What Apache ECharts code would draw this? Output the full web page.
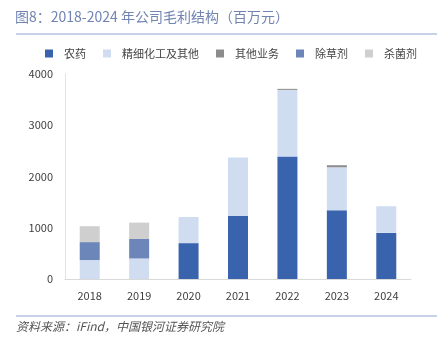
<!DOCTYPE html>
<html><head><meta charset="utf-8">
<script src="https://cdn.jsdelivr.net/npm/echarts@6/dist/echarts.min.js"></script>
<style>html,body{margin:0;padding:0;background:#fff}#c{width:443px;height:340px}</style>
</head><body><div id="c"></div>
<script>
const categories = ['2018','2019','2020','2021','2022','2023','2024'];
const pesticide = [0, 0, 700, 1230, 2390, 1340, 900];
const fineChem = [370, 400, 510, 1140, 1300, 840, 520];
const otherBiz = [0, 0, 0, 0, 20, 40, 0];
const herbicide = [350, 380, 0, 0, 0, 0, 0];
const fungicide = [310, 320, 0, 0, 0, 0, 0];
const seriesNames = ['农药','精细化工及其他','其他业务','除草剂','杀菌剂'];
const yTicks = [0, 1000, 2000, 3000, 4000];

const colors = ['#3a63ad','#d0ddf1','#8c8c8c','#6c86b9','#cfcfcf'];
const dataSets = [pesticide, fineChem, otherBiz, herbicide, fungicide];
const font = '"Noto Sans CJK SC", "Noto Sans", sans-serif';

const chart = echarts.init(document.getElementById('c'), null, {renderer:'canvas'});
chart.setOption({
  animation: false,
  color: colors,
  textStyle: {fontFamily: font},
  graphic: [
    {type:'text', left: 15, top: 10, style:{text:'图8：2018-2024 年公司毛利结构（百万元）', fill:'#7083b3', font:'14px ' + font}},
    {type:'line', shape:{x1:16, y1:34, x2:437, y2:34}, style:{stroke:'#8fa5d3', lineWidth:1}},
    {type:'line', shape:{x1:16, y1:316, x2:437, y2:316}, style:{stroke:'#8fa5d3', lineWidth:1}},
    {type:'text', left: 16, top: 320, style:{text:'资料来源：iFind，中国银河证券研究院', fill:'#555', font:'italic 12px ' + font}}
  ],
  legend: {
    data: seriesNames,
    left: 45, top: 48, padding: 0,
    itemWidth: 8, itemHeight: 8, itemGap: 17,
    icon: 'rect',
    textStyle: {fontSize: 11, color:'#444', padding:[0,0,0,6], fontFamily: font}
  },
  grid: {left: 65, right: 32, top: 74, bottom: 61},
  xAxis: {
    type: 'category', data: categories,
    axisLine: {lineStyle: {color:'#d9d9d9'}},
    axisTick: {show:false},
    axisLabel: {color:'#404040', fontSize: 11, margin: 11}
  },
  yAxis: {
    type: 'value', min: yTicks[0], max: yTicks[yTicks.length-1], interval: 1000,
    axisLine: {show:true, lineStyle: {color:'#e3e3e3'}},
    axisTick: {show:false},
    splitLine: {show:false},
    axisLabel: {color:'#404040', fontSize: 11, margin: 12, formatter: v => String(v)}
  },
  series: seriesNames.map((n,i) => ({
    name: n, type: 'bar', stack: 'total', barWidth: 20,
    data: dataSets[i].map(v => v === 0 ? null : v),
    itemStyle: {color: colors[i]}
  }))
});
</script></body></html>
